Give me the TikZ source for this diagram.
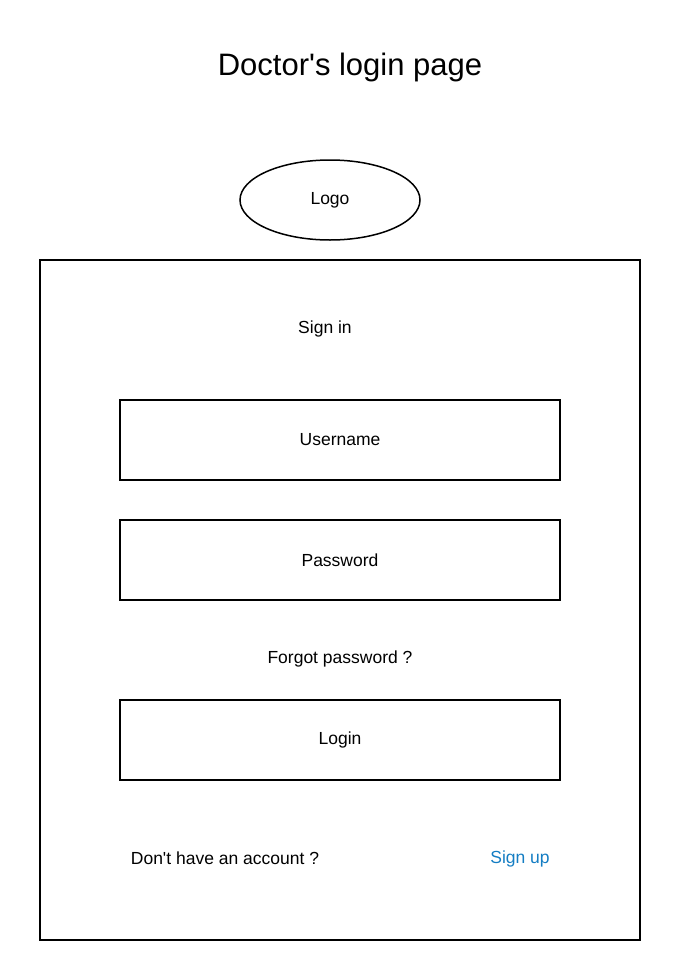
\documentclass[tikz,border=0pt]{standalone}
\usepackage{fontspec}
\setmainfont{Liberation Sans}
\usetikzlibrary{shapes.geometric}
\definecolor{linkblue}{RGB}{20,125,195}
\tikzset{
  every node/.style = {
    inner sep = 0pt,
    outer sep = 0pt
  }
}

\begin{document}
\begin{tikzpicture}[
      x=1pt, y=-1pt,
      field/.style={
        draw, line width=1.5pt,
        minimum width=440pt, minimum height=80pt,
        font=\fontsize{17.5}{20}\selectfont,
      },
      label/.style={
        font=\fontsize{17.5}{20}\selectfont,
      },
      ]
      \useasboundingbox (0,0) rectangle (680,980);
      % title and logo
      \node [font=\fontsize{31}{36}\selectfont] (node-title) at (350,67) {Doctor\textquotesingle s login page};
      \node [ellipse, draw, line width=1.5pt, minimum width=180pt, minimum height=80pt,
        label] (node-logo) at (330,200) {Logo};
      % form frame
      \draw [line width=1.5pt] (40,260) rectangle (640,940);
      \node [label] (node-signin) at (325,329) {Sign in};
      \node [field] (node-username) at (340,440) {Username};
      \node [field] (node-password) at (340,560) {Password};
      \node [label] (node-forgot) at (340,659) {Forgot password ?};
      \node [field] (node-login) at (340,740) {Login};
      \node [label] (node-account) at (225,858) {Don\textquotesingle t have an account ?};
      \node [label, text=linkblue] (node-signup) at (520,859) {Sign up};
    \end{tikzpicture}
\end{document}
